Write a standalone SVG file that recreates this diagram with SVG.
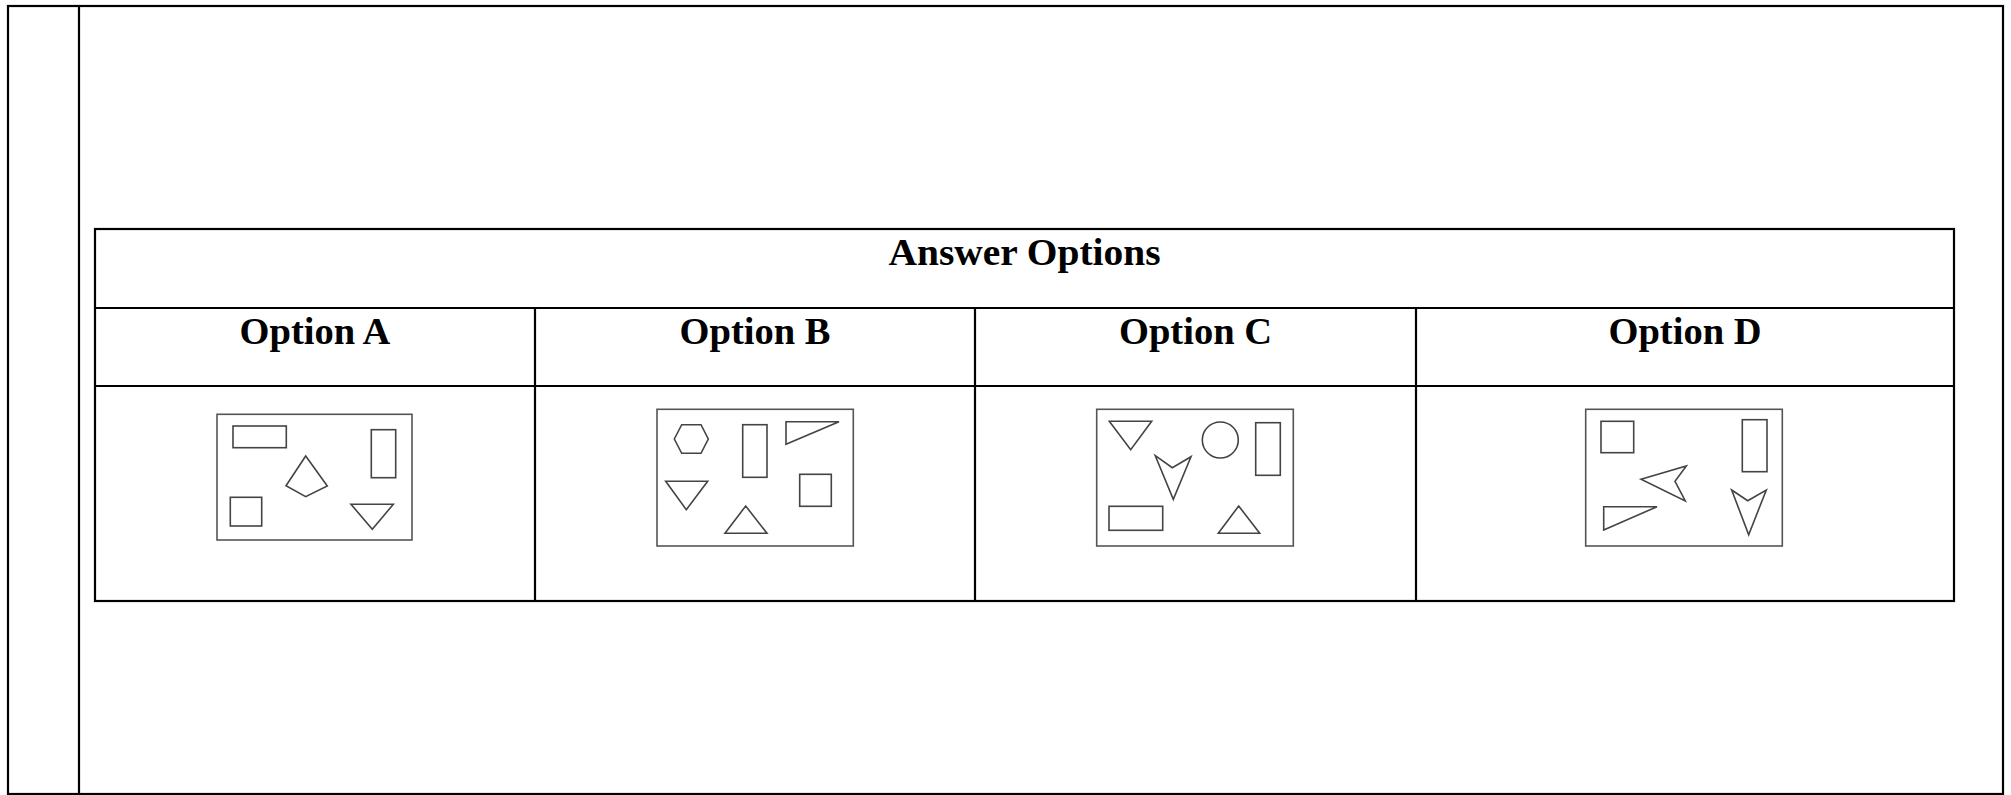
<svg xmlns="http://www.w3.org/2000/svg" width="2011" height="795" viewBox="0 0 2011 795">
<style>
.frame{fill:none;stroke:#000;stroke-width:2.2}
.grid{fill:none;stroke:#000;stroke-width:2.2}
.t{font-family:"Liberation Serif","Times New Roman",serif;font-weight:bold;font-size:38.5px;fill:#000;text-anchor:middle}
.box{fill:#fff;stroke:#555;stroke-width:1.6}
.sh{fill:none;stroke:#444;stroke-width:1.6;stroke-linejoin:miter}
</style>
<rect width="2011" height="795" fill="#fff"/>
<g id="page">
<rect class="frame" x="8" y="6" width="1995" height="788"/>
<line class="frame" x1="79" y1="6" x2="79" y2="795"/>
</g>
<g id="table">
<rect class="grid" x="95" y="229" width="1859" height="372"/>
<line class="grid" x1="95" y1="308" x2="1954" y2="308"/>
<line class="grid" x1="95" y1="386" x2="1954" y2="386"/>
<line class="grid" x1="535" y1="308" x2="535" y2="601"/>
<line class="grid" x1="975" y1="308" x2="975" y2="601"/>
<line class="grid" x1="1416" y1="308" x2="1416" y2="601"/>
<text class="t" x="1024.5" y="265" textLength="272" lengthAdjust="spacingAndGlyphs">Answer Options</text>
<text class="t" x="315" y="344">Option A</text>
<text class="t" x="755" y="344">Option B</text>
<text class="t" x="1195.5" y="344">Option C</text>
<text class="t" x="1685" y="344">Option D</text>
</g>
<g id="optionA">
<rect class="box" x="217" y="414.3" width="195" height="125.7"/>
<rect class="sh" x="233" y="426" width="53.3" height="21.7"/>
<rect class="sh" x="371.3" y="429.7" width="24.4" height="48"/>
<polygon class="sh" points="305.7,456 327.3,486 305.7,496.7 286,485.7"/>
<rect class="sh" x="230.3" y="497.3" width="31.4" height="28.7"/>
<polygon class="sh" points="351,504.3 393.3,504.3 372.3,529.3"/>
</g>
<g id="optionB">
<rect class="box" x="657" y="409.3" width="196.3" height="136.7"/>
<polygon class="sh" points="674.3,439 681.7,424.7 701,424.7 708.3,439 701,453.3 681.7,453.3"/>
<rect class="sh" x="742.7" y="424.7" width="24.3" height="52.6"/>
<polygon class="sh" points="786,421.7 839,421.7 786,444.3"/>
<polygon class="sh" points="665.7,481.3 707.7,481.3 686.3,509.7"/>
<rect class="sh" x="799.7" y="474.3" width="31.6" height="32"/>
<polygon class="sh" points="725,533.3 767,533.3 745.7,506"/>
</g>
<g id="optionC">
<rect class="box" x="1096.7" y="409.3" width="196.6" height="136.7"/>
<polygon class="sh" points="1109.3,421.3 1151.7,421.3 1130.7,449.7"/>
<circle class="sh" cx="1220.3" cy="440" r="18"/>
<rect class="sh" x="1255.7" y="422.7" width="24.6" height="52.6"/>
<polygon class="sh" points="1155.3,455.7 1172.3,467.7 1191,456.7 1173.3,499.3"/>
<rect class="sh" x="1109" y="506.3" width="53.7" height="24"/>
<polygon class="sh" points="1218.3,533.3 1259.7,533.3 1238.7,506"/>
</g>
<g id="optionD">
<rect class="box" x="1585.7" y="409.3" width="196.6" height="136.7"/>
<rect class="sh" x="1601" y="421.3" width="32.7" height="31.4"/>
<rect class="sh" x="1742.3" y="419.7" width="24.7" height="52"/>
<polygon class="sh" points="1641,479.3 1686.3,466 1675,481.3 1685.3,501"/>
<polygon class="sh" points="1603.7,506.7 1657,506.7 1603.7,530"/>
<polygon class="sh" points="1731.7,490 1747.7,500.7 1766.3,490 1748.7,534.7"/>
</g>
<g id="connectors"></g>
</svg>
